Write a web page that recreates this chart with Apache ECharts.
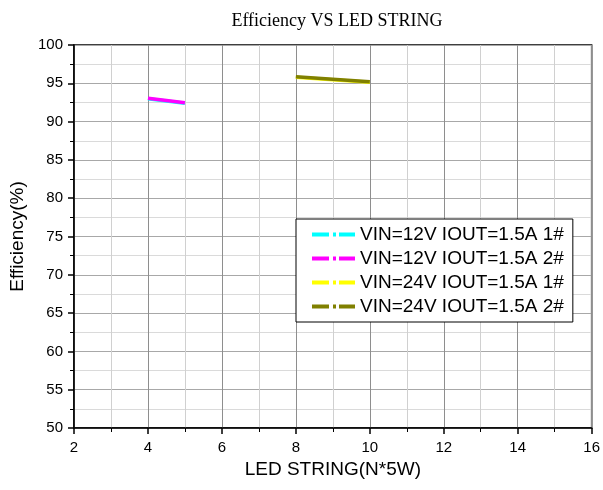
<!DOCTYPE html>
<html><head><meta charset="utf-8">
<script src="https://cdn.jsdelivr.net/npm/echarts@6/dist/echarts.min.js"></script>
<style>html,body{margin:0;padding:0;background:#fff}#c{width:603px;height:490px}</style>
</head><body><div id="c"></div>
<script>
var seriesNames = ['VIN=12V IOUT=1.5A 1#','VIN=12V IOUT=1.5A 2#','VIN=24V IOUT=1.5A 1#','VIN=24V IOUT=1.5A 2#'];
var colors = ['#00FFFF','#FF00FF','#FFFF00','#808000'];
var x12 = [4, 5];
var x24 = [8, 10];
var eff12_1 = [92.99, 92.41];
var eff12_2 = [93.04, 92.47];
var eff24_1 = [95.79, 95.14];
var eff24_2 = [95.87, 95.2];
var xTicks = [2,4,6,8,10,12,14,16];
var yTicks = [50,55,60,65,70,75,80,85,90,95,100];

function pairs(xs, ys){ return xs.map(function(x,i){return [x, ys[i]];}); }
var dataSets = [pairs(x12,eff12_1), pairs(x12,eff12_2), pairs(x24,eff24_1), pairs(x24,eff24_2)];

var chart = echarts.init(document.getElementById('c'), null, {renderer:'canvas'});
var icon = 'path://M0,0h17v4h-17z M21,0h3v4h-3z M27,0h16v4h-16z';
chart.setOption({
  animation:false,
  backgroundColor:'#fff',
  title:{text:'Efficiency VS LED STRING', left:332, top:7, textAlign:'center',
    textStyle:{fontFamily:'Liberation Serif', fontSize:18, fontWeight:'normal', color:'#000'}},
  grid:{left:72, right:9, top:45, bottom:62, show:true, borderColor:'#000', borderWidth:1.5, backgroundColor:'transparent'},
  legend:{
    orient:'vertical', left:296, top:219,
    padding:[6,9,6,16], itemGap:5, itemWidth:43, itemHeight:4,
    borderColor:'#000', borderWidth:1, backgroundColor:'#fff',
    icon: icon,
    textStyle:{fontFamily:'Liberation Sans', fontSize:19, color:'#000'},
    data: seriesNames
  },
  xAxis:{
    type:'value', min:xTicks[0], max:xTicks[xTicks.length-1], interval:2,
    name:'LED STRING(N*5W)', nameLocation:'middle', nameGap:29,
    nameTextStyle:{fontFamily:'Liberation Sans', fontSize:19, color:'#000'},
    axisLine:{show:true, onZero:false, lineStyle:{color:'#000', width:1.5}},
    axisTick:{show:true, inside:false, length:6, lineStyle:{color:'#000', width:1.5}},
    minorTick:{show:true, splitNumber:2, length:4, lineStyle:{color:'#000', width:1}},
    axisLabel:{fontFamily:'Liberation Sans', fontSize:15, color:'#000', margin:12},
    splitLine:{show:true, lineStyle:{color:'#8e8e8e', width:1}},
    minorSplitLine:{show:true, lineStyle:{color:'#d0d0d0', width:1}}
  },
  yAxis:{
    type:'value', min:yTicks[0], max:yTicks[yTicks.length-1], interval:5,
    name:'Efficiency(%)', nameLocation:'middle', nameGap:47, nameRotate:90,
    nameTextStyle:{fontFamily:'Liberation Sans', fontSize:19, color:'#000'},
    axisLine:{show:true, onZero:false, lineStyle:{color:'#000', width:1.5}},
    axisTick:{show:true, inside:false, length:6, lineStyle:{color:'#000', width:1.5}},
    minorTick:{show:true, splitNumber:2, length:4, lineStyle:{color:'#000', width:1}},
    axisLabel:{fontFamily:'Liberation Sans', fontSize:15, color:'#000', margin:11},
    splitLine:{show:true, lineStyle:{color:'#a8a8a8', width:1}},
    minorSplitLine:{show:true, lineStyle:{color:'#dadada', width:1}}
  },
  series: seriesNames.map(function(n,i){
    return {name:n, type:'line', data:dataSets[i], showSymbol:false, symbol:'none',
      color:colors[i], itemStyle:{color:colors[i]},
      lineStyle:{color:colors[i], width:3.5}, z:2+i};
  })
});
</script></body></html>
